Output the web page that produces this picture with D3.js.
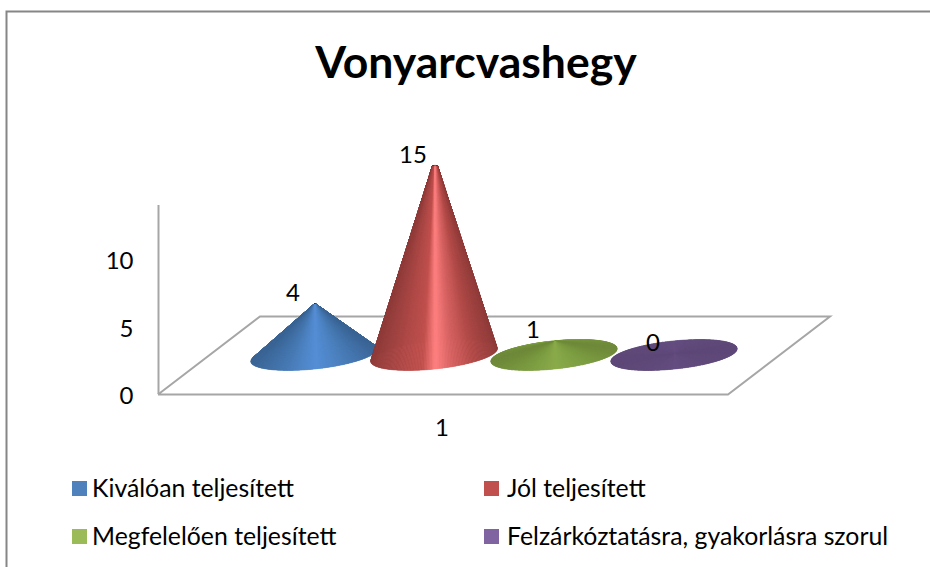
<!DOCTYPE html>
<html><head><meta charset="utf-8">
<script src="https://cdn.jsdelivr.net/npm/d3@7"></script>
<style>html,body{margin:0;background:#fff}svg{display:block}text{font-family:Lato,"Open Sans",sans-serif;fill:#000}</style>
</head><body><svg id="c" width="930" height="567"></svg>
<script>
const title = "Vonyarcvashegy";
const categories = ["Kiválóan teljesített","Jól teljesített","Megfelelően teljesített","Felzárkóztatásra, gyakorlásra szorul"];
const values = [4,15,1,0];
const colors = ["#4f81bd","#c0504d","#9bbb59","#8064a2"];
const shades = [
  ["#3a6494","#4577b0","#4f86c8","#558ed5","#4f86c8","#4577b0","#3a6494"],
  ["#8f3c3a","#b04a48","#c0504d","#ff8080","#d86463","#b04a48","#8f3c3a"],
  ["#6f8a3a","#7a9a40","#83a346","#8aab4a","#83a346","#7a9a40","#6f8a3a"],
  ["#5e4878","#604a7b","#624b7d","#644d80","#624b7d","#604a7b","#5e4878"]
];
const stopOffsets = [0,0.25,0.4,0.5,0.62,0.8,1];
const axisTicks = [0,5,10];
const xLabel = "1";

const svg = d3.select("#c");
const line = "#a6a6a6";

// frame
svg.append("path").attr("d","M6.5,567V11.5H930").attr("fill","none").attr("stroke","#868686").attr("stroke-width",2);

svg.append("text").attr("x",476).attr("y",78).attr("text-anchor","middle")
  .attr("font-size",44.5).attr("font-weight",700).text(title);

// floor
svg.append("path").attr("d","M158,394.5L728,394.5L830,316.5L260,316.5L158,394.5")
  .attr("fill","#fff").attr("stroke",line).attr("stroke-width",2);

// value axis
const yAxisScale = d3.scaleLinear().domain([0,14]).range([396,207]);
const ax = svg.append("g").attr("transform","translate(158.5,0)")
  .call(d3.axisLeft(yAxisScale).tickValues(axisTicks).tickSize(0).tickPadding(25));
ax.select(".domain").attr("d","M0,394V205").attr("stroke",line).attr("stroke-width",2);
ax.selectAll("text").attr("font-size",24);

svg.append("text").attr("x",442).attr("y",436).attr("text-anchor","middle").attr("font-size",24).text(xLabel);

// cones
const x = d3.scaleBand().domain(categories).range([253,733]).padding(0);
const y = d3.scaleLinear().domain([0,15]).range([354,166]);
const rx = 63.5, ry = 14, tilt = -6*Math.PI/180;

categories.forEach((c,i)=>{
  const cx = x(c)+x.bandwidth()/2 + 1, cy = y(0)+1;
  const v = values[i], top = y(v), tip = v*0.17;
  const shade = d3.scaleLinear().domain(stopOffsets).range(shades[i]).interpolate(d3.interpolateRgb);
  const ang = d3.range(0,360,1.5).map(a=>a*Math.PI/180);
  const P = t=>{
    const ex=rx*Math.cos(t), ey=ry*Math.sin(t);
    return [cx+ex*Math.cos(tilt)-ey*Math.sin(tilt), cy+ex*Math.sin(tilt)+ey*Math.cos(tilt)];
  };
  const Q = t=>[cx+1+tip*Math.cos(t), top+tip*0.25*Math.sin(t)];
  const hull = d3.polygonHull(ang.map(P).concat(ang.map(Q)));
  const g = svg.append("g");
  g.append("path").attr("d","M"+hull.join("L")+"Z").attr("fill",shades[i][3]);
  // facets: back of the cone first, front over it
  ang.slice().sort((a,b)=>Math.sin(a)-Math.sin(b)).forEach(t=>{
    const t2=t+1.5*Math.PI/180, col=shade((Math.cos(t+0.75*Math.PI/180)+1)/2);
    g.append("path").attr("d","M"+[Q(t),P(t),P(t2),Q(t2)].join("L")+"Z")
      .attr("fill",col).attr("stroke",col).attr("stroke-width",0.6);
  });
  svg.append("text").attr("x",cx-21).attr("y",top-3).attr("text-anchor","middle")
    .attr("font-size",24).text(v);
});

// legend
const lx = [72,484], ly = [489,537];
categories.forEach((c,i)=>{
  const gx = lx[i%2], gy = ly[i>>1];
  svg.append("rect").attr("x",gx).attr("y",gy-8).attr("width",15).attr("height",15).attr("fill",colors[i]);
  svg.append("text").attr("x",gx+(i%2?23:20)).attr("y",gy+8).attr("font-size",24.8).text(c);
});
</script></body></html>
